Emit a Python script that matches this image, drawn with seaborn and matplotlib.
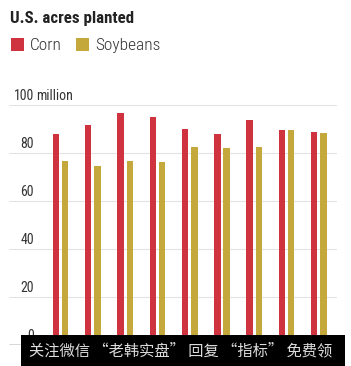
import pandas as pd
import seaborn as sns
import matplotlib.pyplot as plt
from matplotlib.patches import Rectangle

# U.S. acres planted, million acres
years = ['2010', '2011', '2012', '2013', '2014', '2015', '2016', '2017', '2018']
corn = [88.0, 91.5, 96.8, 95.0, 90.0, 87.8, 93.6, 89.6, 88.6]
soybeans = [76.8, 74.4, 76.8, 76.2, 82.6, 82.2, 82.6, 89.5, 88.5]
ytick_values = [0, 20, 40, 60, 80, 100]
ytick_labels = ['0', '20', '40', '60', '80', '100']
unit_label = 'million'

corn_color = '#cf3340'
soy_color = '#c4a83b'

df = pd.DataFrame({'year': years, 'Corn': corn, 'Soybeans': soybeans})
df = df.melt(id_vars='year', var_name='crop', value_name='acres')

sns.set_style('white')
plt.rcParams['font.family'] = ['Roboto Condensed', 'Liberation Sans', 'DejaVu Sans']

W, H = 351, 366
fig = plt.figure(figsize=(W / 100, H / 100), dpi=100)
ax = fig.add_axes([9 / W, 21 / H, 328 / W, 240 / H])

sns.barplot(data=df, x='year', y='acres', hue='crop',
            palette=[corn_color, soy_color], width=0.576, gap=0.32,
            saturation=1, linewidth=0, ax=ax, legend=True)

ax.set_xlim(-1.594, 8.56)
ax.set_ylim(0, 100)
ax.set_yticks(ytick_values)
ax.yaxis.grid(True, color='#e3e3e3', linewidth=0.8)
ax.set_axisbelow(True)
ax.set_yticklabels([])
ax.set_xticks([])
ax.set_xlabel('')
ax.set_ylabel('')
ax.tick_params(length=0)
for s in ax.spines.values():
    s.set_visible(False)
ax.axhline(0, color='#444444', linewidth=1.0, zorder=3)

# tick labels sit above the gridlines, numbers right-aligned
xr = (34 - 9) / 328
for v, lab in zip(ytick_values, ytick_labels):
    ax.text(xr, v + 0.9, lab, transform=ax.get_yaxis_transform(),
            ha='right', va='bottom', fontsize=10, color='#333333')
ax.text(xr + 2 / 328, 100 + 0.9, unit_label, transform=ax.get_yaxis_transform(),
        ha='left', va='bottom', fontsize=10, color='#333333')

# legend
handles, labels = ax.get_legend_handles_labels()
ax.get_legend().remove()
fig.legend(handles, labels, loc='upper left', bbox_to_anchor=(11 / W, 1 - 38 / H),
           ncol=2, frameon=False, handlelength=0.75, handleheight=0.75,
           handletextpad=0.35, columnspacing=0.8, borderpad=0, borderaxespad=0,
           prop={'size': 12.5, 'weight': 'light'}, labelcolor='#333333')

fig.text(10 / W, 1 - 22.7 / H, 'U.S. acres planted', ha='left', va='baseline',
         fontsize=12.2, fontweight='bold', color='#222222')

# watermark banner across the bottom
fig.patches.append(Rectangle((21 / W, 0), 324 / W, 31 / H, transform=fig.transFigure,
                             facecolor='black', edgecolor='none', zorder=5))
fig.text(29 / W, 15 / H, '关注微信 “老韩实盘” 回复 “指标” 免费领', ha='left', va='center',
         fontsize=11, color='#dddddd', zorder=6,
         family=['Noto Sans CJK SC', 'DejaVu Sans'])

fig.savefig('out.png', dpi=100, facecolor='white')
